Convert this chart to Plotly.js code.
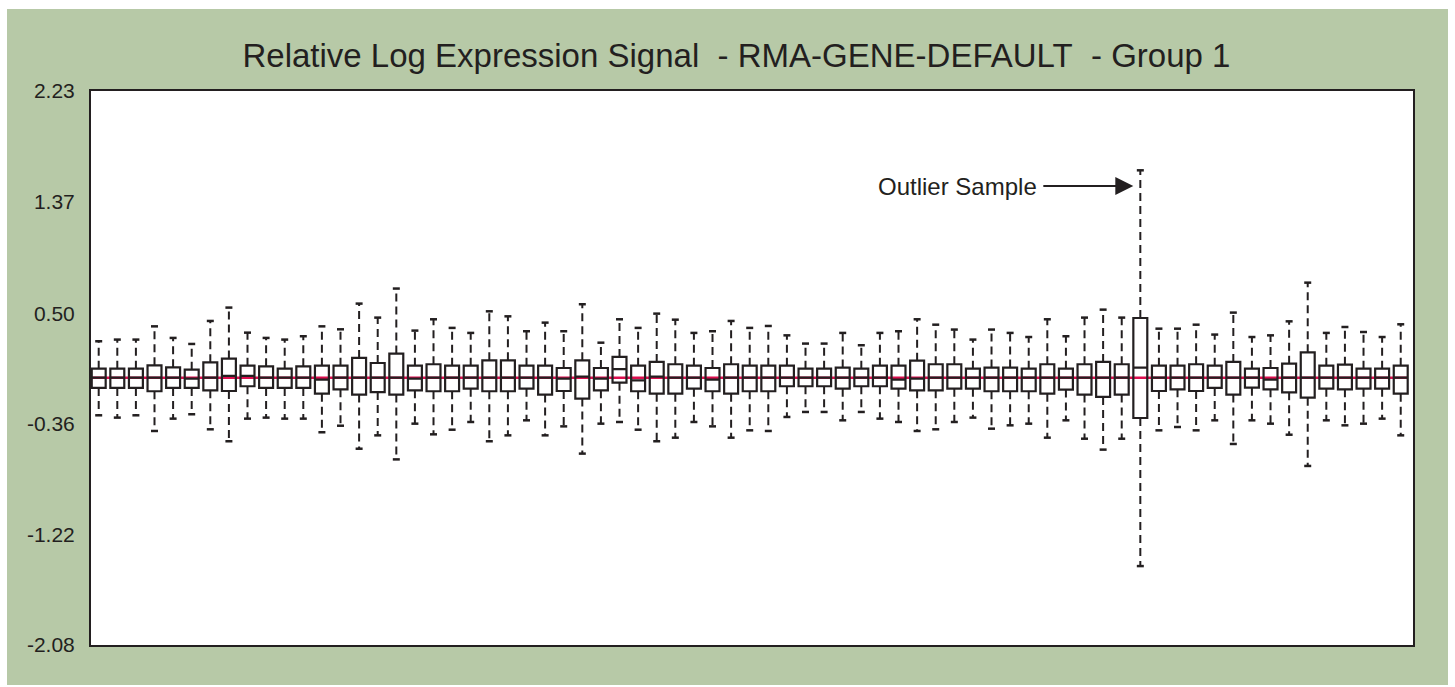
<!DOCTYPE html>
<html>
<head>
<meta charset="utf-8">
<script src="https://cdn.plot.ly/plotly-3.0.1.min.js"></script>
<style>
  html, body { margin: 0; padding: 0; background: #ffffff; }
  #chart { position: absolute; left: 7px; top: 9px; width: 1441px; height: 676px; }
</style>
</head>
<body>
<div id="chart"></div>
<script>
// Sample indices (71 arrays)
const samples = Array.from({length: 71}, (_, i) => i + 1);

const whiskerHigh = [0.283,0.296,0.296,0.399,0.309,0.262,0.441,0.545,0.350,0.309,
  0.296,0.322,0.399,0.376,0.576,0.467,0.693,0.366,0.454,0.387,
  0.348,0.516,0.477,0.361,0.428,0.361,0.571,0.272,0.454,0.387,
  0.498,0.451,0.348,0.361,0.441,0.387,0.402,0.329,0.265,0.265,
  0.348,0.252,0.348,0.361,0.454,0.412,0.374,0.296,0.374,0.348,
  0.316,0.454,0.322,0.467,0.529,0.467,1.613,0.381,0.381,0.412,
  0.335,0.506,0.316,0.329,0.438,0.739,0.348,0.394,0.355,0.316,0.415];

const q3 = [0.070,0.070,0.070,0.096,0.080,0.062,0.119,0.148,0.093,0.088,
  0.070,0.088,0.093,0.093,0.153,0.114,0.187,0.093,0.104,0.093,
  0.093,0.135,0.135,0.093,0.093,0.075,0.135,0.075,0.161,0.093,
  0.122,0.104,0.093,0.075,0.104,0.093,0.093,0.093,0.070,0.070,
  0.078,0.070,0.093,0.093,0.132,0.104,0.104,0.070,0.078,0.078,
  0.070,0.104,0.070,0.104,0.122,0.104,0.464,0.093,0.093,0.104,
  0.093,0.122,0.070,0.075,0.109,0.197,0.093,0.101,0.070,0.070,0.093];

const median = [0,0,0,0,0,-0.008,0,0.013,0.013,0,
  0,0,-0.016,0,0,0,0,-0.008,0,0,
  0,0,0,0,0,-0.008,0.008,-0.008,0.067,-0.021,
  0.008,0,0,-0.016,0,0,0,0,0,0,
  0,0,0,-0.016,-0.008,0,0,0,0,0,
  0,0,0,0,0,0,0.078,0,0,0,
  0,0,0,-0.016,0,0,0,0,0,0,0];

const q1 = [-0.080,-0.080,-0.080,-0.106,-0.080,-0.080,-0.099,-0.104,-0.067,-0.080,
  -0.080,-0.080,-0.125,-0.091,-0.132,-0.112,-0.132,-0.099,-0.106,-0.106,
  -0.086,-0.106,-0.106,-0.086,-0.132,-0.104,-0.163,-0.099,-0.039,-0.106,
  -0.125,-0.125,-0.086,-0.106,-0.125,-0.106,-0.106,-0.067,-0.067,-0.067,
  -0.086,-0.067,-0.067,-0.086,-0.099,-0.099,-0.086,-0.086,-0.106,-0.106,
  -0.106,-0.125,-0.093,-0.132,-0.150,-0.132,-0.314,-0.104,-0.091,-0.104,
  -0.080,-0.132,-0.078,-0.091,-0.114,-0.156,-0.086,-0.091,-0.086,-0.086,-0.125];

const whiskerLow = [-0.293,-0.311,-0.293,-0.415,-0.319,-0.285,-0.402,-0.495,-0.319,-0.311,
  -0.319,-0.319,-0.425,-0.374,-0.553,-0.449,-0.636,-0.358,-0.441,-0.405,
  -0.345,-0.495,-0.449,-0.332,-0.449,-0.379,-0.591,-0.358,-0.345,-0.405,
  -0.495,-0.467,-0.345,-0.379,-0.467,-0.410,-0.415,-0.306,-0.267,-0.267,
  -0.332,-0.267,-0.319,-0.345,-0.415,-0.402,-0.345,-0.311,-0.397,-0.371,
  -0.358,-0.467,-0.332,-0.475,-0.560,-0.475,-1.466,-0.410,-0.384,-0.410,
  -0.332,-0.516,-0.332,-0.358,-0.444,-0.687,-0.332,-0.371,-0.358,-0.319,-0.449];

const tickVals = [2.23, 1.37, 0.50, -0.36, -1.22, -2.08];
const tickText = ['2.23', '1.37', '0.50', '-0.36', '-1.22', '-2.08'];

const titleText = 'Relative Log Expression Signal\u00A0\u00A0- RMA-GENE-DEFAULT\u00A0\u00A0- Group 1';
const outlierLabel = 'Outlier Sample';
const outlierIndex = 57;
const outlierArrowY = 1.49;

const ink = '#231f20';

// dashed whisker segments
const wx = [], wy = [];
samples.forEach((s, i) => {
  wx.push(s, s, null, s, s, null);
  wy.push(q3[i], whiskerHigh[i], null, q1[i], whiskerLow[i], null);
});
const capX = samples.concat(samples);
const capY = whiskerHigh.concat(whiskerLow);

const traces = [
  {
    type: 'scatter', mode: 'lines', x: wx, y: wy, hoverinfo: 'skip',
    line: {color: ink, width: 2, dash: '8px,5px'}, showlegend: false
  },
  {
    type: 'scatter', mode: 'markers', x: capX, y: capY, hoverinfo: 'skip',
    marker: {symbol: 'line-ew', size: 5, line: {color: ink, width: 2.5}}, showlegend: false
  },
  {
    type: 'box', x: samples, q1: q1, median: median, q3: q3,
    lowerfence: q1, upperfence: q3,
    boxpoints: false, whiskerwidth: 0, width: 0.75,
    fillcolor: 'rgba(255,255,255,0)',
    line: {color: ink, width: 2.2}, showlegend: false
  }
];

const layout = {
  width: 1441, height: 676,
  paper_bgcolor: '#b7c9a7',
  plot_bgcolor: '#ffffff',
  margin: {l: 84, r: 35, t: 82, b: 40},
  showlegend: false,
  title: {
    text: titleText, x: 0.5062, xref: 'container', xanchor: 'center',
    y: 1 - 46 / 676, yanchor: 'middle',
    font: {family: 'Liberation Sans, Arial, sans-serif', size: 33, color: ink}
  },
  xaxis: {
    range: [0.586, 71.66], showticklabels: false, ticks: '',
    showgrid: false, zeroline: false,
    showline: true, mirror: true, linecolor: ink, linewidth: 2
  },
  yaxis: {
    range: [-2.08, 2.23], tickvals: tickVals, ticktext: tickText,
    ticks: 'outside', ticklen: 10, tickcolor: 'rgba(0,0,0,0)',
    tickfont: {family: 'Liberation Sans, Arial, sans-serif', size: 21, color: ink},
    showgrid: false, zeroline: false,
    showline: true, mirror: true, linecolor: ink, linewidth: 2
  },
  shapes: [{
    type: 'line', layer: 'below', xref: 'x', yref: 'y',
    x0: 0.625, x1: 71.375, y0: 0, y1: 0,
    line: {color: '#dc0f4f', width: 2.5}
  }],
  annotations: [{
    xref: 'x', yref: 'y', x: outlierIndex, y: outlierArrowY,
    text: outlierLabel, showarrow: true,
    ax: -183, ay: 0, axref: 'pixel', ayref: 'pixel',
    arrowhead: 2, arrowsize: 1.8, arrowwidth: 2, arrowcolor: ink,
    standoff: 7, startstandoff: 5,
    font: {family: 'Liberation Sans, Arial, sans-serif', size: 24, color: ink}
  }]
};

Plotly.newPlot('chart', traces, layout, {displayModeBar: false, staticPlot: true});
</script>
</body>
</html>
